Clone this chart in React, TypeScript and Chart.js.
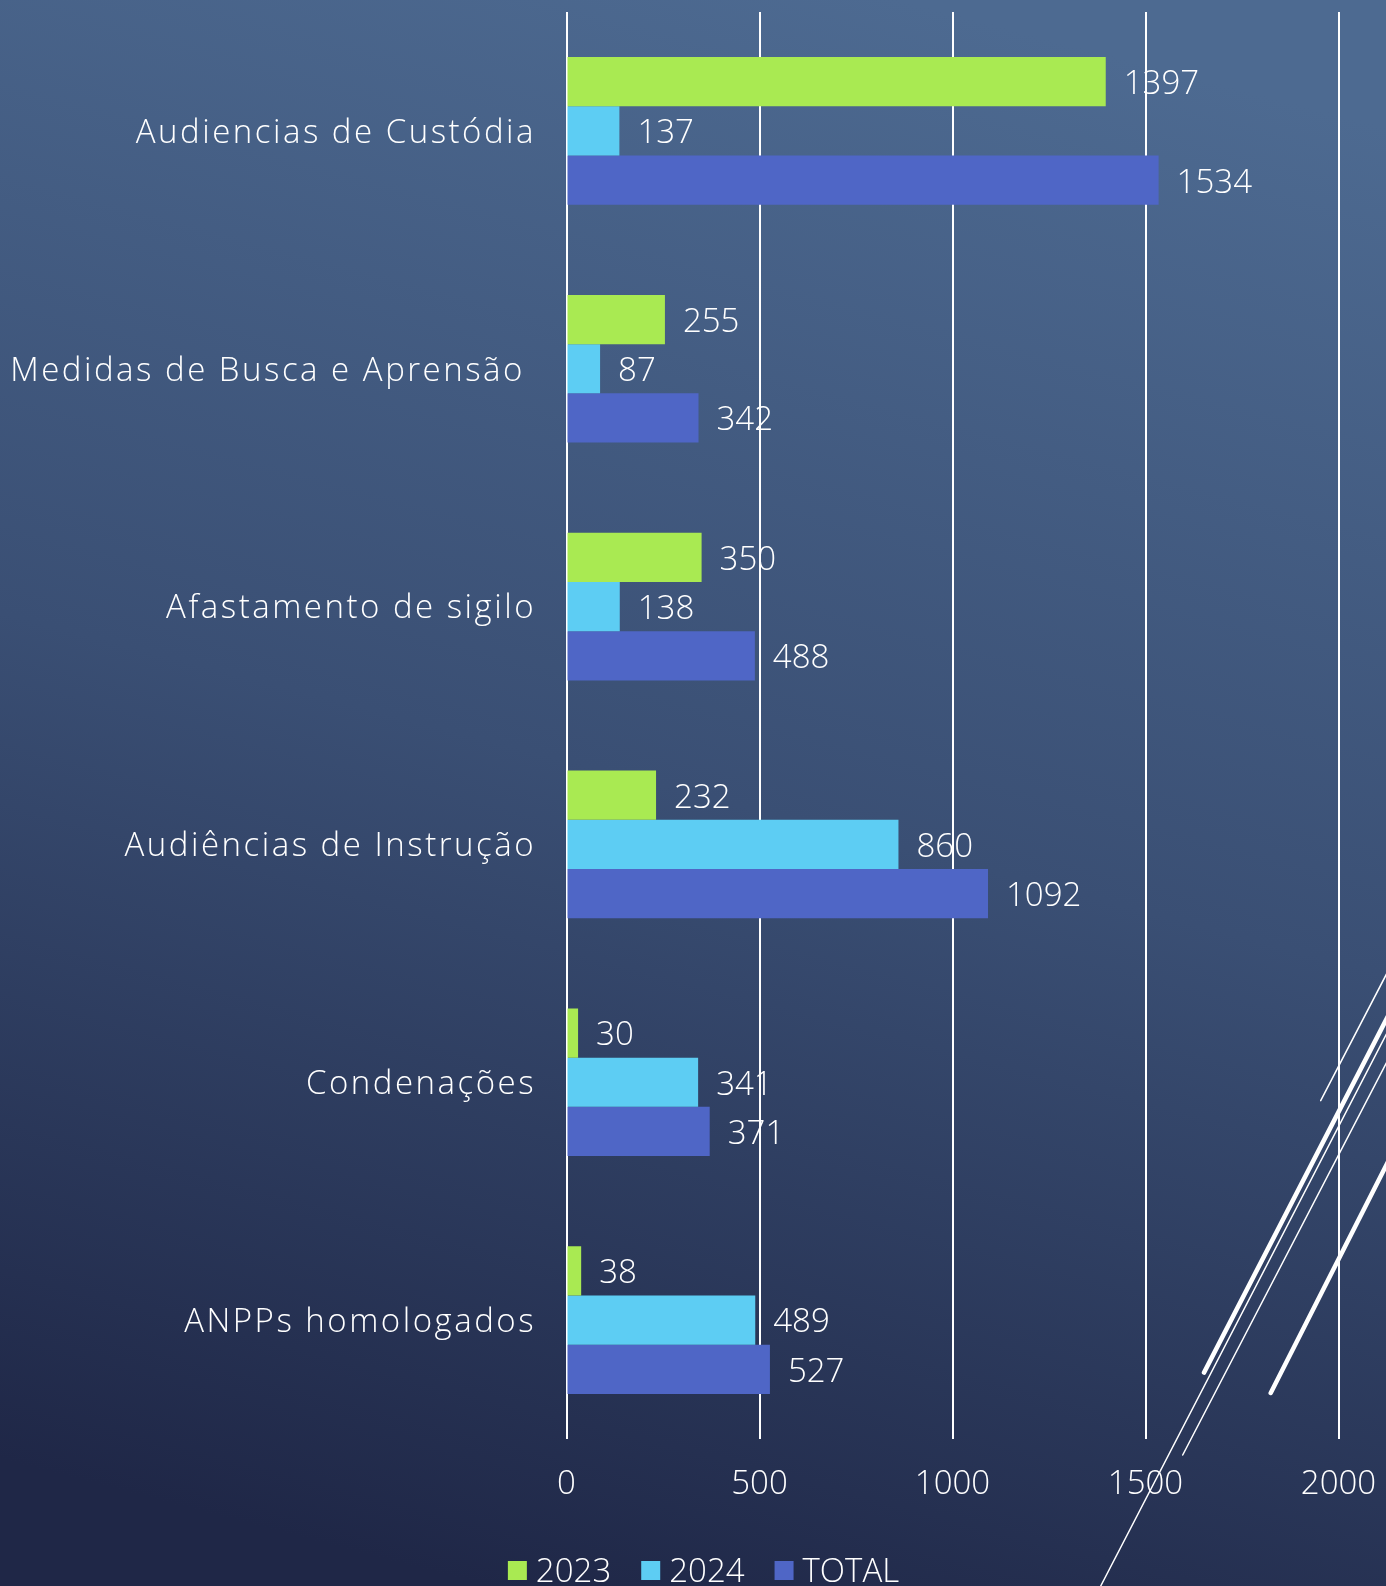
import React, { useEffect, useRef } from "react";
import { Chart, registerables } from "chart.js";

Chart.register(...registerables);

const categories = [
  "Audiencias de Custódia",
  "Medidas de Busca e Aprensão ",
  "Afastamento de sigilo",
  "Audiências de Instrução",
  "Condenações",
  "ANPPs homologados",
];
const values2023 = [1397, 255, 350, 232, 30, 38];
const values2024 = [137, 87, 138, 860, 341, 489];
const valuesTotal = [1534, 342, 488, 1092, 371, 527];
const seriesNames = ["2023", "2024", "TOTAL"];
const seriesColors = ["#a9ea52", "#5dcdf3", "#4f66c6"];
const xTickValues = [0, 500, 1000, 1500, 2000];

const FONT = "'Open Sans', Lato, 'DejaVu Sans', sans-serif";
const FONT_SIZE = 33;
const FONT_WEIGHT = 300;
const W = 1386;
const H = 1586;

const backgroundPlugin = {
  id: "bgGradient",
  beforeDraw(chart: any) {
    const ctx = chart.ctx;
    ctx.save();
    const g = ctx.createLinearGradient(900, 0, 486, H);
    g.addColorStop(0, "#4d6a91");
    g.addColorStop(0.5, "#3a4f74");
    g.addColorStop(1, "#1f2747");
    ctx.fillStyle = g;
    ctx.fillRect(0, 0, chart.width, chart.height);
    ctx.restore();
  },
};

const valueLabelPlugin = {
  id: "valueLabels",
  afterDatasetsDraw(chart: any) {
    const ctx = chart.ctx;
    ctx.save();
    ctx.fillStyle = "#ffffff";
    ctx.font = `${FONT_WEIGHT} ${FONT_SIZE}px ${FONT}`;
    ctx.textAlign = "left";
    ctx.textBaseline = "middle";
    chart.data.datasets.forEach((ds: any, di: number) => {
      const meta = chart.getDatasetMeta(di);
      meta.data.forEach((el: any, i: number) => {
        ctx.fillText(String(ds.data[i]), el.x + 18, el.y + 3);
      });
    });
    ctx.restore();
  },
};

const decoLines = [
  { x1: 1320.7, y1: 1100.7, x2: 1386, y2: 975, w: 1.5 },
  { x1: 1204, y1: 1372.6, x2: 1386, y2: 1020, w: 4.5 },
  { x1: 1100.7, y1: 1586, x2: 1386, y2: 1034.8, w: 1.5 },
  { x1: 1182.7, y1: 1455, x2: 1386, y2: 1063.6, w: 1.5 },
  { x1: 1270.7, y1: 1393, x2: 1386, y2: 1165.8, w: 4.5 },
];

const decoPlugin = {
  id: "decoLines",
  afterDraw(chart: any) {
    const ctx = chart.ctx;
    ctx.save();
    ctx.strokeStyle = "#ffffff";
    ctx.lineCap = "round";
    decoLines.forEach((l) => {
      const dx = l.x2 - l.x1;
      const dy = l.y2 - l.y1;
      ctx.lineWidth = l.w;
      ctx.beginPath();
      ctx.moveTo(l.x1, l.y1);
      ctx.lineTo(l.x2 + dx * 0.2, l.y2 + dy * 0.2);
      ctx.stroke();
    });
    ctx.restore();
  },
};

const legendPlugin = {
  id: "customLegend",
  afterDraw(chart: any) {
    const ctx = chart.ctx;
    ctx.save();
    ctx.font = `${FONT_WEIGHT} ${FONT_SIZE}px ${FONT}`;
    const box = 19;
    const gapText = 9;
    const gapItem = 30;
    const widths = seriesNames.map((n) => ctx.measureText(n).width);
    const total =
      widths.reduce((a, b) => a + b, 0) + seriesNames.length * (box + gapText) + gapItem * (seriesNames.length - 1);
    let x = 703.5 - total / 2;
    const boxTop = 1561;
    const baseline = 1582;
    seriesNames.forEach((n, i) => {
      ctx.fillStyle = seriesColors[i];
      ctx.fillRect(x, boxTop, box, box);
      ctx.fillStyle = "#ffffff";
      ctx.textBaseline = "alphabetic";
      ctx.textAlign = "left";
      ctx.fillText(n, x + box + gapText, baseline);
      x += box + gapText + widths[i] + gapItem;
    });
    ctx.restore();
  },
};

export default function App() {
  const ref = useRef<HTMLCanvasElement | null>(null);

  useEffect(() => {
    document.body.style.margin = "0";
    const canvas = ref.current;
    if (!canvas) return;
    const chart = new Chart(canvas, {
      type: "bar",
      data: {
        labels: categories,
        datasets: [
          { label: seriesNames[0], data: values2023, backgroundColor: seriesColors[0] },
          { label: seriesNames[1], data: values2024, backgroundColor: seriesColors[1] },
          { label: seriesNames[2], data: valuesTotal, backgroundColor: seriesColors[2] },
        ],
      },
      options: {
        indexAxis: "y",
        responsive: false,
        animation: false,
        devicePixelRatio: 1,
        datasets: {
          bar: { categoryPercentage: 0.621, barPercentage: 1.0 },
        },
        layout: { padding: { top: 12, right: 47.5, bottom: 0, left: 0 } },
        plugins: {
          legend: { display: false },
          tooltip: { enabled: false },
        },
        scales: {
          x: {
            type: "linear",
            min: 0,
            max: 2000,
            afterBuildTicks: (scale: any) => {
              scale.ticks = xTickValues.map((v) => ({ value: v }));
            },
            afterFit: (scale: any) => {
              scale.height = 147;
              scale.paddingLeft = 0;
              scale.paddingRight = 0;
            },
            grid: { display: true, color: "#ffffff", lineWidth: 2, drawTicks: false },
            border: { display: false },
            ticks: {
              color: "#ffffff",
              font: { family: FONT, size: FONT_SIZE, weight: FONT_WEIGHT },
              padding: 26,
              maxRotation: 0,
              autoSkip: false,
              callback: (v: any) => String(v),
            },
          },
          y: {
            afterFit: (scale: any) => {
              scale.width = 566.5;
              scale.paddingTop = 0;
              scale.paddingBottom = 0;
              if (!scale.__wrapped) {
                const orig = scale.drawLabels.bind(scale);
                scale.drawLabels = (area: any) => {
                  const ctx = scale.ctx;
                  ctx.save();
                  ctx.letterSpacing = "2.5px";
                  ctx.translate(2.5, 2.5);
                  orig(area);
                  ctx.restore();
                };
                scale.__wrapped = true;
              }
            },
            grid: { display: false, drawTicks: false },
            border: { display: false },
            ticks: {
              color: "#ffffff",
              font: { family: FONT, size: FONT_SIZE, weight: FONT_WEIGHT },
              padding: 33,
              autoSkip: false,
            },
          },
        },
      },
      plugins: [backgroundPlugin, valueLabelPlugin, decoPlugin, legendPlugin],
    } as any);
    return () => chart.destroy();
  }, []);

  return (
    <div style={{ width: W, height: H, overflow: "hidden" }}>
      <canvas ref={ref} width={W} height={H} style={{ display: "block", width: W, height: H }} />
    </div>
  );
}
